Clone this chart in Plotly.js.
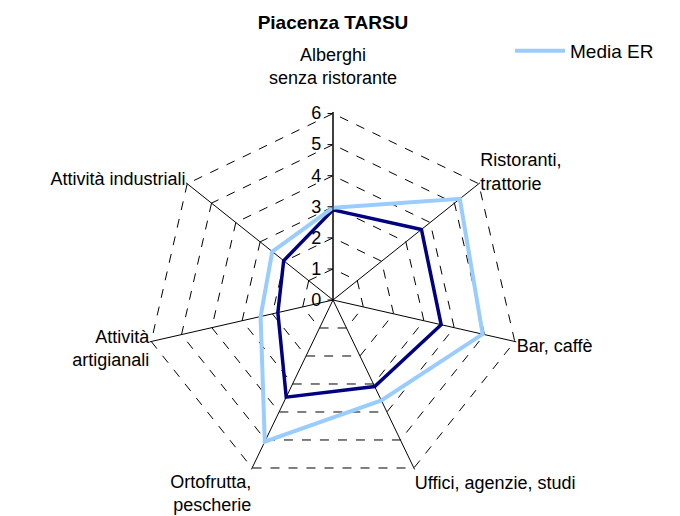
<!DOCTYPE html>
<html>
<head>
<meta charset="utf-8">
<script src="https://cdn.plot.ly/plotly-3.0.1.min.js"></script>
<style>html,body{margin:0;padding:0;background:#fff;}#chart{width:680px;height:516px;}</style>
</head>
<body>
<div id="chart"></div>
<script>
const categories = [
  "Alberghi senza ristorante",
  "Ristoranti, trattorie",
  "Bar, caffè",
  "Uffici, agenzie, studi",
  "Ortofrutta, pescherie",
  "Attività artigianali",
  "Attività industriali"
];
const categoryLabels = [
  "Alberghi<br>senza ristorante<br> ",
  "Ristoranti,<br>trattorie",
  "Bar, caffè",
  "Uffici, agenzie, studi",
  "Ortofrutta,<br>pescherie",
  "Attività<br>artigianali",
  "Attività industriali"
];
const piacenza = [2.9, 3.64, 3.57, 3.09, 3.47, 1.82, 2.03];
const mediaER = [2.97, 5.22, 4.94, 3.59, 5.06, 2.39, 2.5];
const radialTicks = [0, 1, 2, 3, 4, 5, 6];

function closed(a) { return a.concat([a[0]]); }

const font = {family: "Liberation Sans, Arial, sans-serif", color: "#000"};
const CX = 333, CY = 300, R = 188;

const traces = [
  {
    type: "scatterpolar",
    r: closed(piacenza),
    theta: closed(categories),
    mode: "lines",
    name: "Piacenza",
    showlegend: false,
    line: {color: "#000080", width: 3.5}
  },
  {
    type: "scatterpolar",
    r: closed(mediaER),
    theta: closed(categories),
    mode: "lines",
    name: "Media ER",
    line: {color: "#99ccff", width: 4}
  }
];

const layout = {
  width: 680,
  height: 516,
  margin: {l: 0, r: 0, t: 0, b: 0},
  paper_bgcolor: "#fff",
  plot_bgcolor: "#fff",
  font: Object.assign({size: 18}, font),
  title: {
    text: "<b>Piacenza TARSU</b>",
    x: 333 / 680, xanchor: "center",
    y: 1 - 22 / 516, yanchor: "middle",
    font: Object.assign({size: 19}, font)
  },
  showlegend: true,
  legend: {
    x: 510 / 680, xanchor: "left",
    y: 1 - 32 / 516, yanchor: "top",
    itemwidth: 50,
    bgcolor: "rgba(0,0,0,0)",
    font: Object.assign({size: 19}, font)
  },
  polar: {
    domain: {
      x: [(CX - R) / 680, (CX + R) / 680],
      y: [(516 - CY - R) / 516, (516 - CY + R) / 516]
    },
    gridshape: "linear",
    bgcolor: "#fff",
    radialaxis: {
      range: [0, 6.05],
      tickmode: "array",
      tickvals: radialTicks,
      ticktext: radialTicks.map(String),
      angle: 90,
      tickangle: 90,
      side: "counterclockwise",
      showline: true,
      linecolor: "#000",
      linewidth: 1,
      ticks: "outside",
      ticklen: 5,
      tickcolor: "#000",
      showgrid: true,
      gridcolor: "#000",
      gridwidth: 1,
      griddash: "dash",
      tickfont: Object.assign({size: 18}, font)
    },
    angularaxis: {
      direction: "clockwise",
      rotation: 90,
      tickmode: "array",
      tickvals: categories,
      ticktext: categoryLabels,
      showline: false,
      showgrid: true,
      gridcolor: "#000",
      gridwidth: 1,
      ticks: "",
      tickfont: Object.assign({size: 18}, font)
    }
  }
};

Plotly.newPlot("chart", traces, layout, {displayModeBar: false, staticPlot: true});
</script>
</body>
</html>
